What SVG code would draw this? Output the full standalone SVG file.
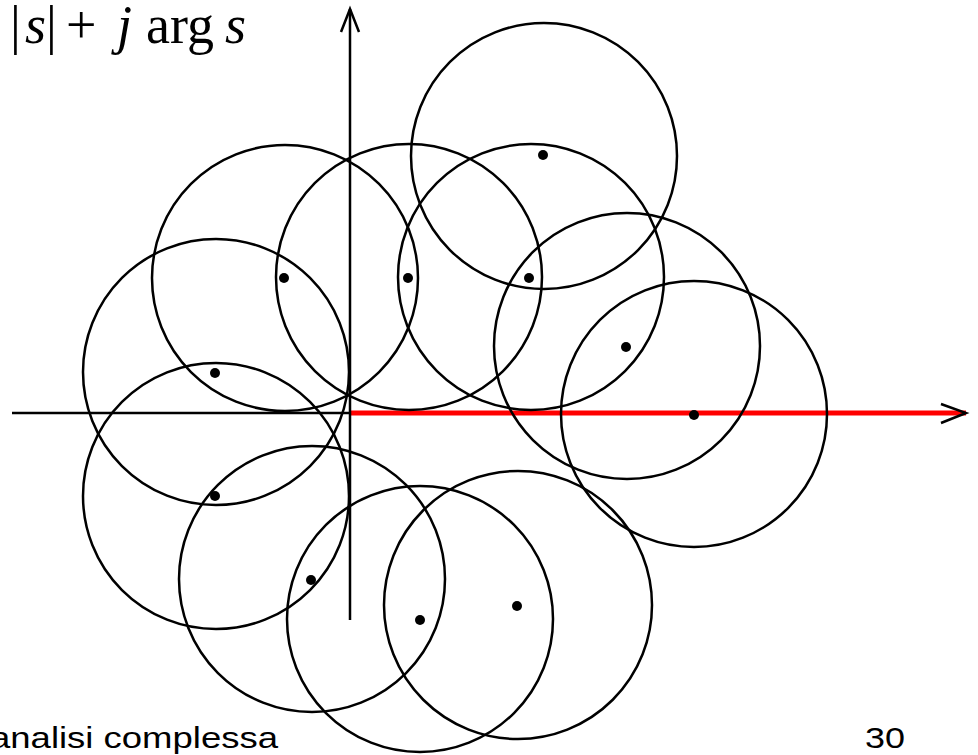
<svg xmlns="http://www.w3.org/2000/svg" width="978" height="755" viewBox="0 0 978 755">
<style>
.c{fill:none;stroke:#000;stroke-width:2.5}
.d{fill:#000}
.ax{stroke:#000;stroke-width:2.5;fill:none}
.m{font-family:"Liberation Serif",serif;font-size:54px;font-style:italic;fill:#000}
.r{font-family:"Liberation Serif",serif;font-size:54px;fill:#000}
.t{font-family:"Liberation Sans",Arial,sans-serif;font-size:30px;fill:#000}
</style>
<rect width="978" height="755" fill="#fff"/>
<g id="axes">
<line class="ax" x1="12" y1="413" x2="350" y2="413"/>
<line x1="350" y1="413" x2="966" y2="413" stroke="#f00" stroke-width="5"/>
<polyline class="ax" points="941,404 966,413 941,423"/>
<line class="ax" x1="350" y1="9" x2="350" y2="620"/>
<polyline class="ax" points="341,32 350,9 359,32"/>
</g>
<g id="circles">
<circle class="c" cx="544" cy="156" r="133"/>
<circle class="c" cx="285" cy="278" r="133"/>
<circle class="c" cx="409" cy="277" r="133"/>
<circle class="c" cx="531" cy="277" r="133"/>
<circle class="c" cx="216" cy="372" r="133"/>
<circle class="c" cx="627" cy="346" r="133"/>
<circle class="c" cx="694" cy="414" r="133"/>
<circle class="c" cx="216" cy="496" r="133"/>
<circle class="c" cx="312" cy="579" r="133"/>
<circle class="c" cx="420" cy="619" r="133"/>
<circle class="c" cx="518" cy="605" r="134"/>
</g>
<g id="dots">
<circle class="d" cx="543" cy="155" r="5"/>
<circle class="d" cx="284" cy="278" r="5"/>
<circle class="d" cx="408" cy="278" r="5"/>
<circle class="d" cx="529" cy="278" r="5"/>
<circle class="d" cx="215" cy="373" r="5"/>
<circle class="d" cx="626" cy="347" r="5"/>
<circle class="d" cx="694" cy="415" r="5"/>
<circle class="d" cx="215" cy="496" r="5"/>
<circle class="d" cx="311" cy="580" r="5"/>
<circle class="d" cx="420" cy="620" r="5"/>
<circle class="d" cx="517" cy="606" r="5"/>
</g>
<g id="formula">
<text class="r" x="10" y="43">|</text>
<text class="m" x="25" y="43">s</text>
<text class="r" x="46" y="43">|</text>
<text class="r" x="66" y="43">+</text>
<text class="m" x="117" y="43">j</text>
<text class="r" x="146" y="43">arg</text>
<text class="m" x="225" y="43">s</text>
</g>
<g id="footer">
<text class="t" x="-10" y="748" textLength="288" lengthAdjust="spacingAndGlyphs">analisi complessa</text>
<text class="t" x="865" y="748" textLength="40" lengthAdjust="spacingAndGlyphs">30</text>
</g>
</svg>
